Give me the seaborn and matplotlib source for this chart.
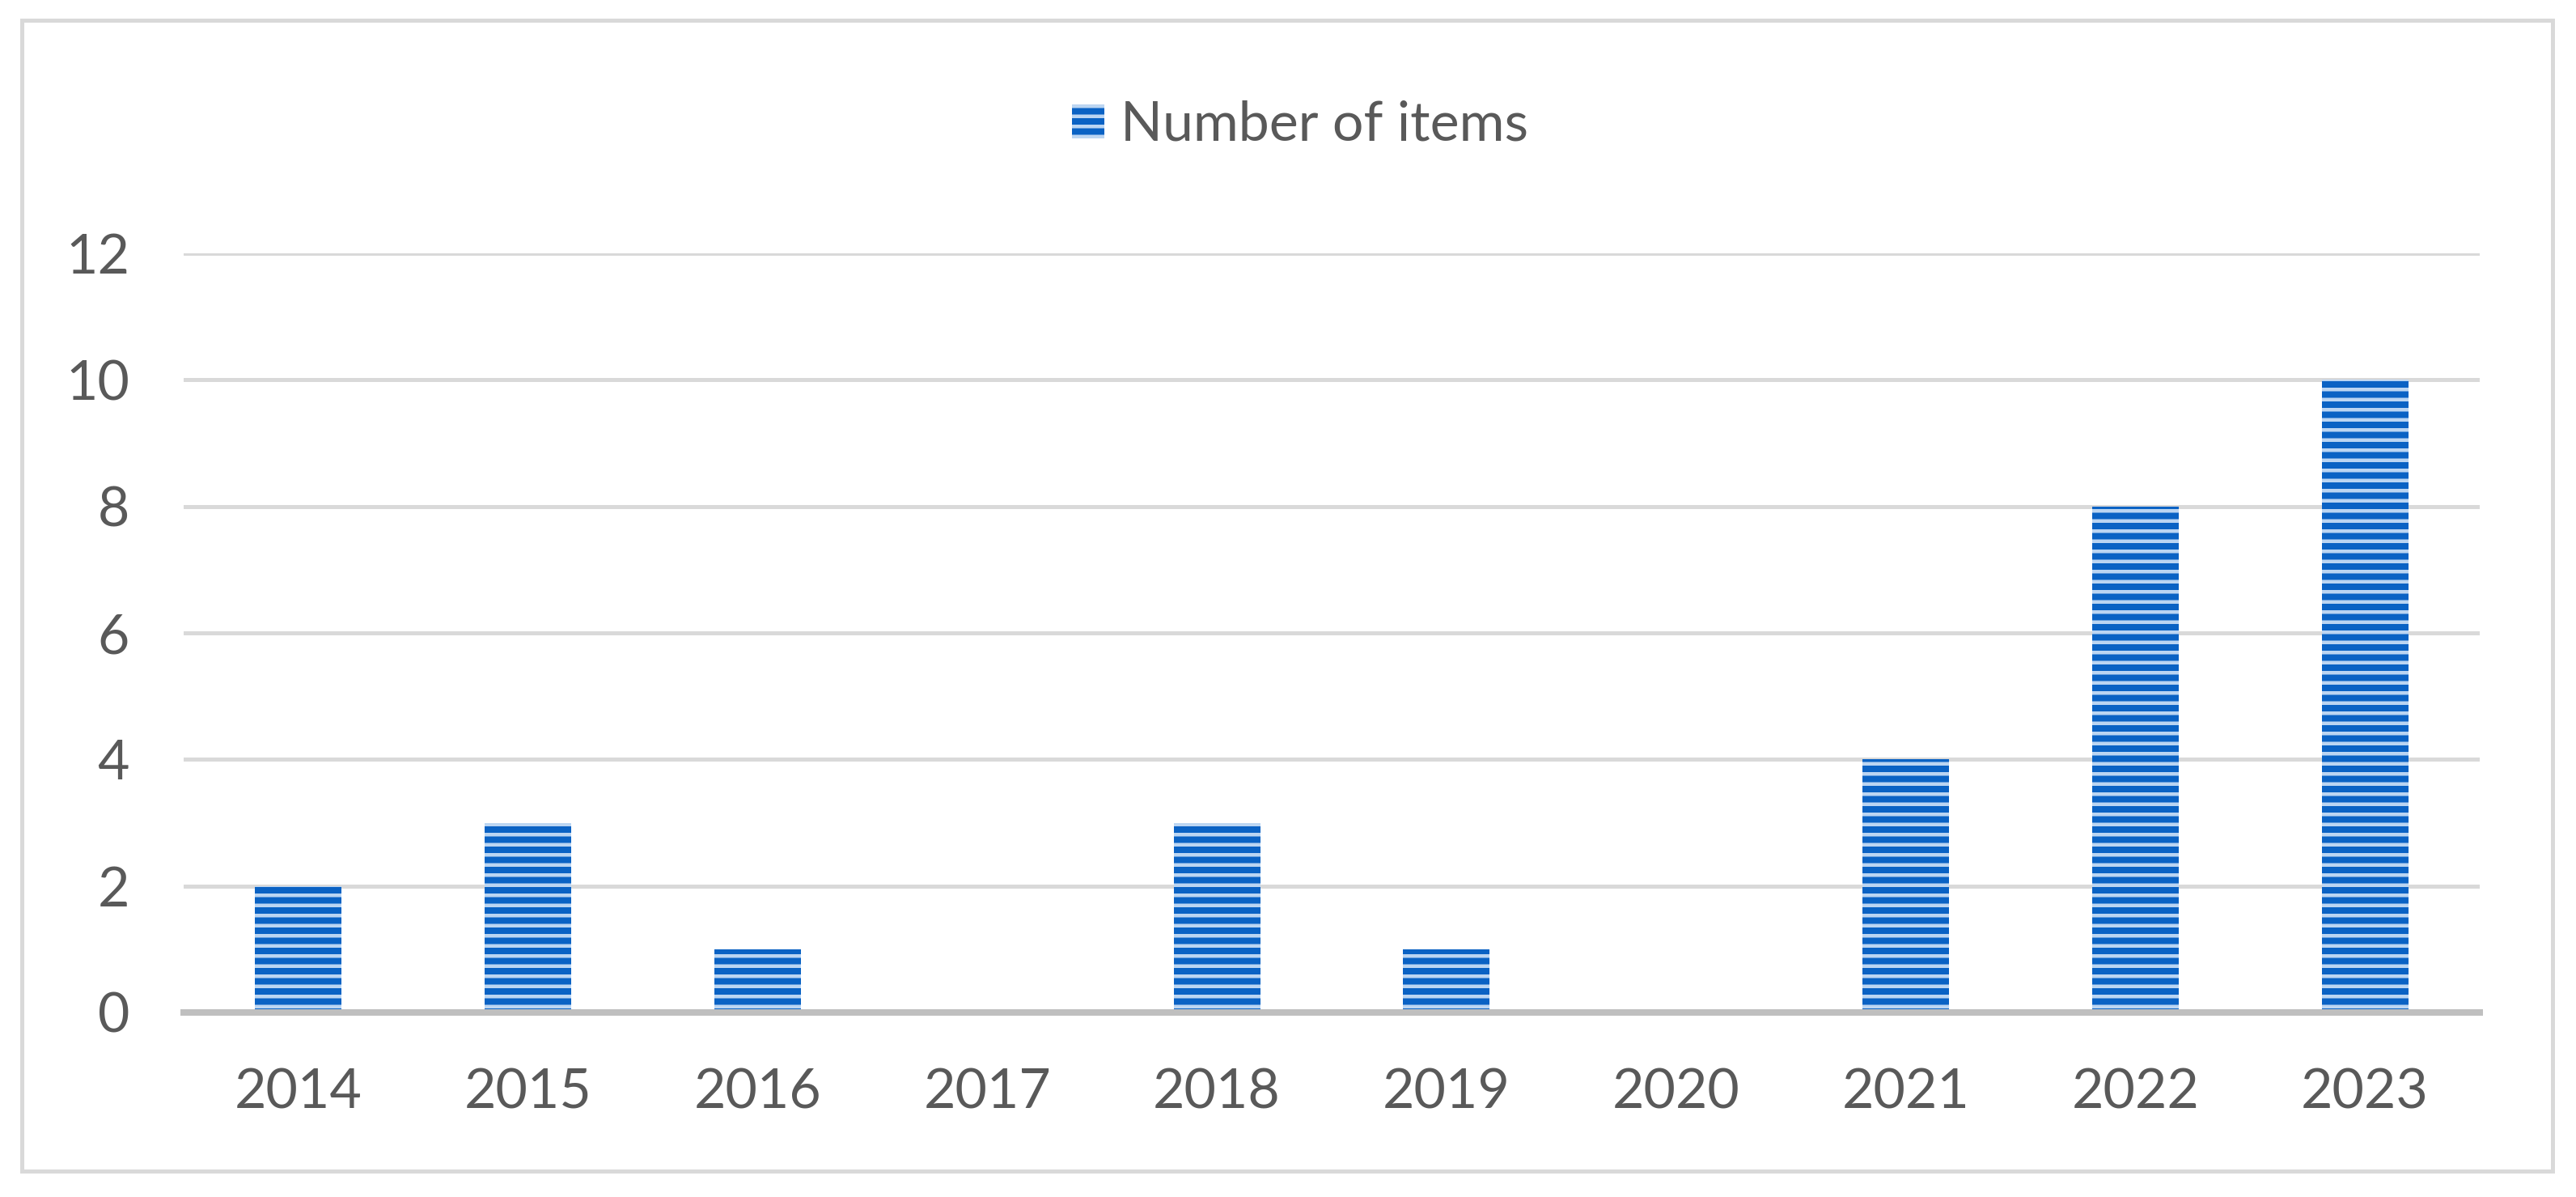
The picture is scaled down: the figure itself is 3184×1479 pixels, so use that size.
"""
Bar chart: number of items per year
"""
import matplotlib
matplotlib.use('Agg')
import matplotlib.pyplot as plt
import matplotlib.patches as mpatches
import seaborn as sns
import pandas as pd

# data
years = ['2014', '2015', '2016', '2017', '2018', '2019', '2020', '2021', '2022', '2023']
items = [2, 3, 1, 0, 3, 1, 0, 4, 8, 10]
y_ticks = [0, 2, 4, 6, 8, 10, 12]
series_label = 'Number of items'

DPI = 150
W, H = 3184, 1479


def px(p):
    # pixel size -> points at the output dpi
    return p * 72 / DPI


sns.set_style('white')
plt.rcParams['font.family'] = ['Lato', 'DejaVu Sans']
plt.rcParams['hatch.linewidth'] = px(4.5)

TEXT = '#595959'
GRID = '#D9D9D9'
BAR_DARK = '#0A62C4'
BAR_LIGHT = '#BBD5F2'
FS = px(68)

df = pd.DataFrame({'year': years, 'items': items})

fig = plt.figure(figsize=(W / DPI, H / DPI), dpi=DPI)
ax = fig.add_axes([227 / W, 1 - 1251 / H, (3065 - 227) / W, (1251 - 313) / H])

sns.barplot(data=df, x='year', y='items', ax=ax, color=BAR_DARK, saturation=1,
            width=0.377, label=series_label)

for bar in ax.patches:
    bar.set_hatch('--')
    bar.set_edgecolor(BAR_LIGHT)
    bar.set_linewidth(0)
    bar.set_zorder(3)

ax.set_xlim(-0.5, len(years) - 0.5)
ax.set_ylim(0, 12)
ax.set_yticks(y_ticks)
ax.set_xlabel('')
ax.set_ylabel('')

# gridlines and axis
ax.set_axisbelow(True)
ax.yaxis.grid(True, color=GRID, linewidth=px(5))
ax.xaxis.grid(False)
for side in ['top', 'left', 'right']:
    ax.spines[side].set_visible(False)
ax.spines['bottom'].set_color('#BFBFBF')
ax.spines['bottom'].set_linewidth(px(8))
ax.spines['bottom'].set_zorder(4)

ax.tick_params(axis='x', length=0, pad=px(68), labelsize=FS, labelcolor=TEXT)
ax.tick_params(axis='y', length=0, pad=px(67), labelsize=FS, labelcolor=TEXT)

# legend above plot
leg = ax.legend(loc='center', bbox_to_anchor=(1607 / W, 1 - 155 / H), bbox_transform=fig.transFigure,
                frameon=False, fontsize=FS, handlelength=0.59, handleheight=0.59,
                handletextpad=0.29, borderpad=0)
for t in leg.get_texts():
    t.set_color(TEXT)

# outer border
fig.patches.append(mpatches.Rectangle((27 / W, 1 - 1447 / H), (3155 - 27) / W,
                                      (1447 - 25) / H, transform=fig.transFigure,
                                      fill=False, edgecolor=GRID, linewidth=px(5)))

fig.savefig('out.png', dpi=DPI, facecolor='white')
